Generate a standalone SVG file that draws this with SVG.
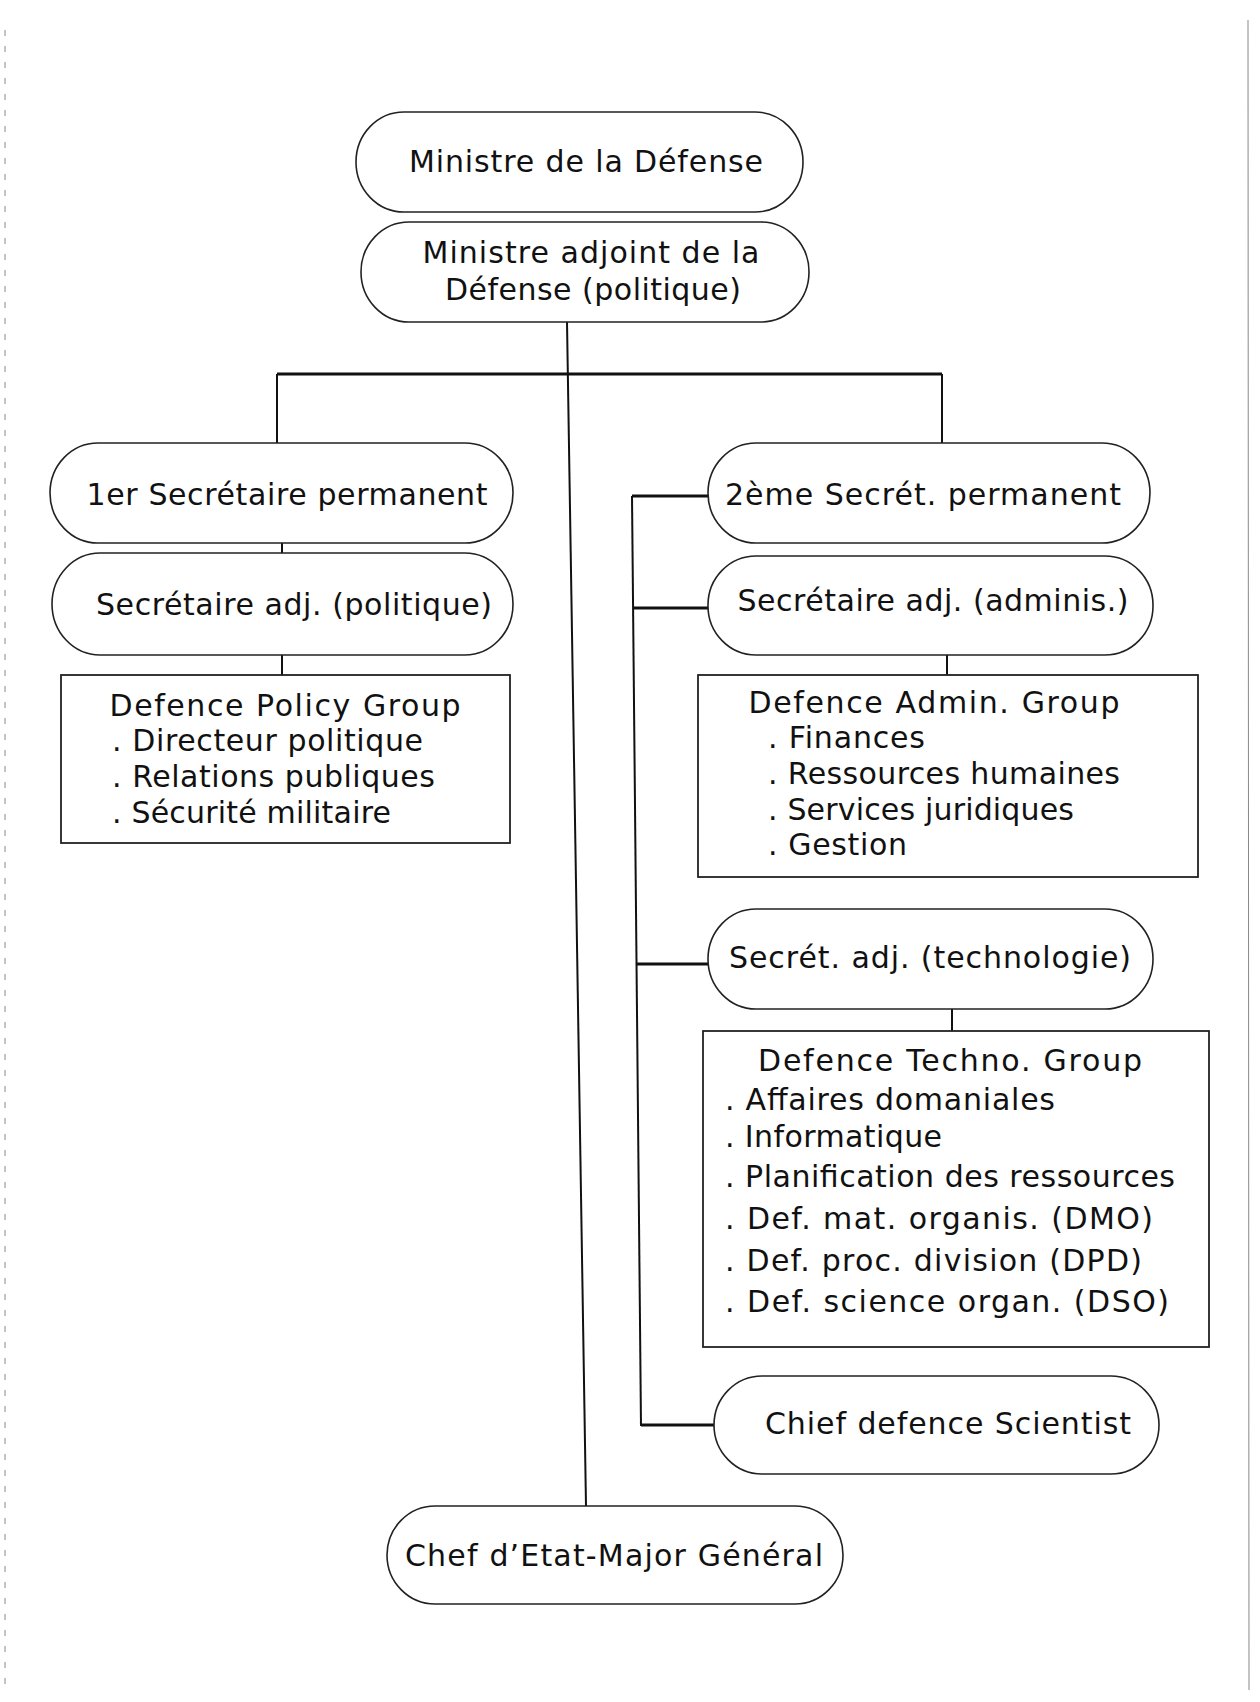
<svg xmlns="http://www.w3.org/2000/svg" width="1260" height="1702" viewBox="0 0 1260 1702">
<style>
.pill{fill:#fff;stroke:#222;stroke-width:1.6}
.box{fill:#fff;stroke:#222;stroke-width:1.8}
.t{font-family:"DejaVu Sans","Liberation Sans",sans-serif;font-size:30px;fill:#111}
.c{text-anchor:middle}
.ln{stroke:#111;stroke-width:2;fill:none}
.th{stroke:#111;stroke-width:3;fill:none}
.edge{stroke:#888;stroke-width:1;fill:none}
</style>
<rect width="1260" height="1702" fill="#fff"/>
<g id="page-edges">
<line class="edge" x1="5" y1="30" x2="5" y2="1690" stroke-dasharray="6 10"/>
<line class="edge" x1="1248" y1="20" x2="1249" y2="1690"/>
</g>
<g id="connectors">
<line class="ln" x1="567" y1="322" x2="586" y2="1506"/>
<line class="th" x1="277" y1="374" x2="942" y2="374"/>
<line class="ln" x1="277" y1="374" x2="277" y2="443"/>
<line class="ln" x1="942" y1="374" x2="942" y2="443"/>
<line class="ln" x1="282" y1="543" x2="282" y2="553"/>
<line class="ln" x1="282" y1="655" x2="282" y2="675"/>
<line class="ln" x1="947" y1="655" x2="947" y2="675"/>
<line class="ln" x1="952" y1="1009" x2="952" y2="1031"/>
<line class="ln" x1="632" y1="496" x2="641" y2="1426"/>
<line class="th" x1="632" y1="496" x2="708" y2="496"/>
<line class="th" x1="633" y1="608" x2="708" y2="608"/>
<line class="th" x1="637" y1="964" x2="708" y2="964"/>
<line class="th" x1="641" y1="1425" x2="715" y2="1425"/>
</g>
<g id="ministre">
<rect class="pill" x="356" y="112" width="447" height="100" rx="48" ry="50"/>
<text class="t c" x="586" y="172" textLength="354" lengthAdjust="spacing">Ministre de la Défense</text>
</g>
<g id="ministre-adjoint">
<rect class="pill" x="361" y="222" width="448" height="100" rx="48" ry="50"/>
<text class="t c" x="591" y="263" textLength="337" lengthAdjust="spacing">Ministre adjoint de la</text>
<text class="t c" x="593" y="300" textLength="296" lengthAdjust="spacing">Défense (politique)</text>
</g>
<g id="sec-perm-1">
<rect class="pill" x="50" y="443" width="463" height="100" rx="48" ry="50"/>
<text class="t c" x="287" y="505" textLength="401" lengthAdjust="spacing">1er Secrétaire permanent</text>
</g>
<g id="sec-adj-pol">
<rect class="pill" x="52" y="553" width="461" height="102" rx="48" ry="51"/>
<text class="t c" x="294" y="615" textLength="396" lengthAdjust="spacing">Secrétaire adj. (politique)</text>
</g>
<g id="policy-group">
<rect class="box" x="61" y="675" width="449" height="168"/>
<text class="t c" x="285" y="716" textLength="351" lengthAdjust="spacing">Defence Policy Group</text>
<text class="t" x="112" y="751" textLength="311" lengthAdjust="spacing">. Directeur politique</text>
<text class="t" x="112" y="787" textLength="323" lengthAdjust="spacing">. Relations publiques</text>
<text class="t" x="112" y="823" textLength="279" lengthAdjust="spacing">. Sécurité militaire</text>
</g>
<g id="sec-perm-2">
<rect class="pill" x="708" y="443" width="442" height="100" rx="48" ry="50"/>
<text class="t c" x="923" y="505" textLength="396" lengthAdjust="spacing">2ème Secrét. permanent</text>
</g>
<g id="sec-adj-admin">
<rect class="pill" x="708" y="556" width="445" height="99" rx="48" ry="49"/>
<text class="t c" x="933" y="611" textLength="391" lengthAdjust="spacing">Secrétaire adj. (adminis.)</text>
</g>
<g id="admin-group">
<rect class="box" x="698" y="675" width="500" height="202"/>
<text class="t c" x="934" y="713" textLength="371" lengthAdjust="spacing">Defence Admin. Group</text>
<text class="t" x="768" y="748" textLength="157" lengthAdjust="spacing">. Finances</text>
<text class="t" x="768" y="784" textLength="352" lengthAdjust="spacing">. Ressources humaines</text>
<text class="t" x="768" y="820" textLength="306" lengthAdjust="spacing">. Services juridiques</text>
<text class="t" x="768" y="855" textLength="139" lengthAdjust="spacing">. Gestion</text>
</g>
<g id="sec-adj-tech">
<rect class="pill" x="708" y="909" width="445" height="100" rx="48" ry="50"/>
<text class="t c" x="930" y="968" textLength="402" lengthAdjust="spacing">Secrét. adj. (technologie)</text>
</g>
<g id="techno-group">
<rect class="box" x="703" y="1031" width="506" height="316"/>
<text class="t c" x="950" y="1071" textLength="384" lengthAdjust="spacing">Defence Techno. Group</text>
<text class="t" x="725" y="1110" textLength="330" lengthAdjust="spacing">. Affaires domaniales</text>
<text class="t" x="725" y="1147" textLength="217" lengthAdjust="spacing">. Informatique</text>
<text class="t" x="725" y="1187" textLength="450" lengthAdjust="spacing">. Planification des ressources</text>
<text class="t" x="725" y="1229" textLength="428" lengthAdjust="spacing">. Def. mat. organis. (DMO)</text>
<text class="t" x="725" y="1271" textLength="417" lengthAdjust="spacing">. Def. proc. division (DPD)</text>
<text class="t" x="725" y="1312" textLength="444" lengthAdjust="spacing">. Def. science organ. (DSO)</text>
</g>
<g id="chief-scientist">
<rect class="pill" x="714" y="1376" width="445" height="98" rx="48" ry="49"/>
<text class="t c" x="948" y="1434" textLength="366" lengthAdjust="spacing">Chief defence Scientist</text>
</g>
<g id="chef-etat-major">
<rect class="pill" x="387" y="1506" width="456" height="98" rx="48" ry="49"/>
<text class="t c" x="614" y="1566" textLength="418" lengthAdjust="spacing">Chef d’Etat-Major Général</text>
</g>
</svg>
